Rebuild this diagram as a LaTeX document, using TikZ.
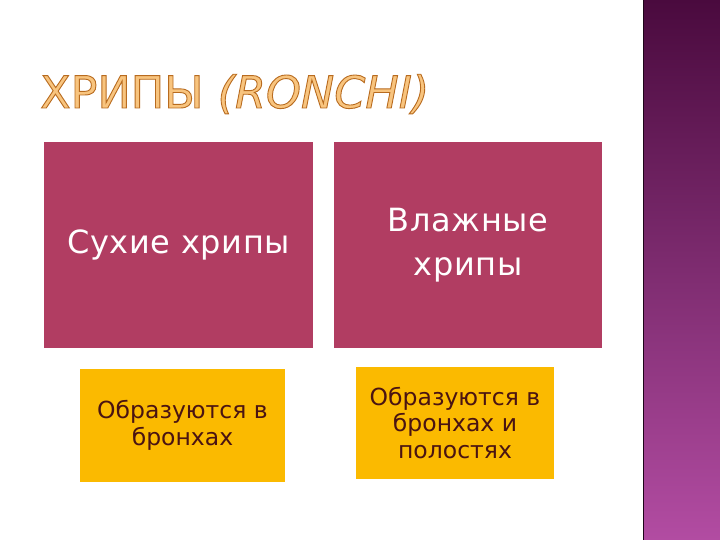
\documentclass[tikz,border=0pt]{standalone}
\usepackage{fontspec}
\setmainfont{DejaVu Sans}
\newfontfamily\boxfont[LetterSpace=2]{DejaVu Sans}
\definecolor{rosebox}{HTML}{B13D62}
\definecolor{goldbox}{HTML}{FBBA00}
\definecolor{browntext}{HTML}{4A1412}
\definecolor{bandtop}{HTML}{4A0A3E}
\definecolor{bandmid}{HTML}{7E2C70}
\definecolor{bandbot}{HTML}{B24CA2}
\definecolor{titlefill}{HTML}{F8C47E}
\tikzset{
  rosecell/.style={fill=rosebox, draw=none, inner sep=0pt, text=white, align=center, font=\boxfont\fontsize{32}{44}\selectfont},
  goldcell/.style={fill=goldbox, draw=none, inner sep=0pt, text=browntext, align=center, font=\fontsize{23.5}{26.5}\selectfont},
}
\begin{document}
\begin{tikzpicture}[x=1pt,y=-1pt]
\useasboundingbox (0,0) rectangle (720,540);
\fill[white] (0,0) rectangle (720,540);
% purple band
\shade[top color=bandtop, bottom color=bandbot, middle color=bandmid] (643,0) rectangle (720,540);
\draw[color=black!60!bandtop, line width=1.5pt] (643.5,0) -- (643.5,540);
% title
\node[anchor=base west, inner sep=0pt, text=titlefill, font=\fontsize{44.5}{50}\selectfont] (title) at (40,108)
  {\special{pdf:literal direct 2 Tr 0.9 w 0.72 0.42 0.12 RG}ХРИПЫ \textit{(RONCHI)}\special{pdf:literal direct 0 Tr}};
% boxes
\node[rosecell, minimum width=269pt, minimum height=205pt] (dry) at (178.5,245) {Сухие хрипы};
\node[rosecell, minimum width=268pt, minimum height=205pt] (wet) at (468,245) {Влажные\\хрипы};
\node[goldcell, minimum width=205pt, minimum height=113pt] (drywhere) at (182.5,425.5) {Образуются в\\бронхах};
\node[goldcell, minimum width=198pt, minimum height=112pt] (wetwhere) at (455,423) {Образуются в\\бронхах и\\полостях};
\end{tikzpicture}
\end{document}
